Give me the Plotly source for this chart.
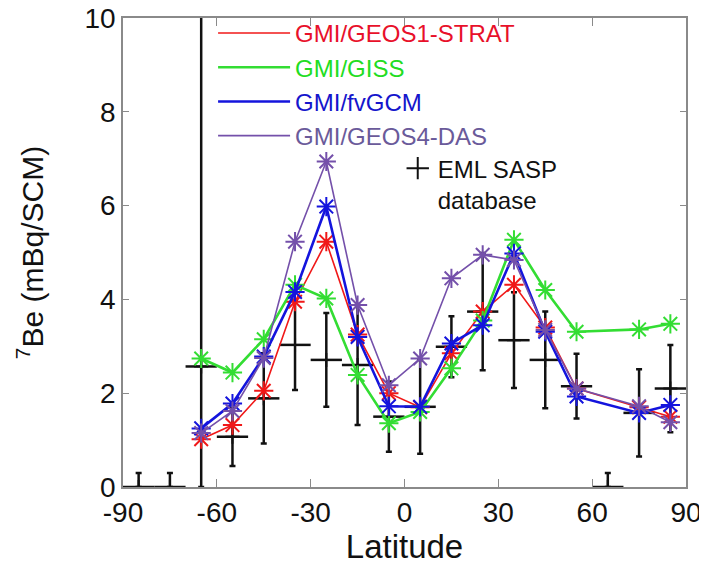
import plotly.graph_objects as go

# ---------------- data ----------------
lat_model = [-65, -55, -45, -35, -25, -15, -5, 5, 15, 25, 35, 45, 55, 75, 85]
geos1_strat = [1.02, 1.32, 2.05, 3.95, 5.23, 3.25, 2.00, 1.70, 2.85, 3.74, 4.31, 3.40, 2.10, 1.70, 1.50]
giss        = [2.74, 2.44, 3.15, 4.31, 4.02, 2.39, 1.36, 1.60, 2.53, 3.55, 5.27, 4.20, 3.31, 3.36, 3.48]
fvgcm       = [1.25, 1.78, 2.78, 4.16, 5.98, 3.20, 1.72, 1.71, 3.06, 3.45, 4.98, 3.31, 1.93, 1.58, 1.75]
geos4_das   = [1.15, 1.62, 2.75, 5.23, 6.94, 3.88, 2.17, 2.74, 4.45, 4.95, 4.84, 3.35, 2.10, 1.72, 1.38]

lat_obs = [-85, -75, -65, -55, -45, -35, -25, -15, -5, 5, 15, 25, 35, 45, 55, 65, 75, 85]
eml_val = [0.0, 0.0, 2.57, 1.07, 1.89, 3.03, 2.71, 2.60, 1.50, 1.71, 2.99, 3.74, 3.13, 2.71, 2.15, 0.0, 1.58, 2.10]
eml_err_plus = [0.30, 0.30, 8.0, 0.62, 0.96, 0.96, 1.00, 1.28, 0.75, 1.00, 0.65, 1.25, 1.02, 1.03, 0.69, 0.30, 0.93, 0.93]
eml_err_minus = [0.0, 0.0, 2.57, 0.62, 0.96, 0.96, 1.00, 1.28, 0.75, 1.00, 0.65, 1.25, 1.02, 1.03, 0.69, 0.0, 0.93, 0.93]
lat_halfwidth = [5] * len(lat_obs)

x_ticks = [-90, -60, -30, 0, 30, 60, 90]
x_tick_labels = ["-90", "-60", "-30", "0", "30", "60", "90"]
y_ticks = [0, 2, 4, 6, 8, 10]

models = [
    ("GMI/GEOS1-STRAT", geos1_strat, "#f01818", "#e8102a", 1.6),
    ("GMI/GISS", giss, "#33dd33", "#22dd22", 2.6),
    ("GMI/fvGCM", fvgcm, "#1414dd", "#1515cc", 2.6),
    ("GMI/GEOS4-DAS", geos4_das, "#7450aa", "#6a5a9a", 1.6),
]

FONT = "Liberation Sans, Arial, sans-serif"

fig = go.Figure()

# observations (cross = lat range bar + uncertainty bar)
fig.add_trace(go.Scatter(
    x=lat_obs, y=eml_val, mode="markers",
    marker=dict(symbol="cross-thin", size=10, color="#111111",
                line=dict(color="#111111", width=2)),
    error_x=dict(type="data", array=lat_halfwidth, symmetric=True,
                 color="#111111", thickness=2.5, width=0),
    error_y=dict(type="data", array=eml_err_plus, arrayminus=eml_err_minus,
                 symmetric=False, color="#111111", thickness=2.5, width=3),
    showlegend=False, hoverinfo="skip",
))

for name, vals, col, tcol, lw in models:
    fig.add_trace(go.Scatter(
        x=lat_model, y=vals, mode="lines+markers",
        line=dict(color=col, width=lw),
        marker=dict(symbol="asterisk-open", size=16,
                    line=dict(color=col, width=2)),
        showlegend=False,
    ))

# legend entries
for name, vals, col, tcol, lw in models:
    fig.add_trace(go.Scatter(
        x=[None], y=[None], mode="lines",
        line=dict(color=col, width=lw),
        name=f"<span style='color:{tcol}'>{name}</span>",
        legend="legend",
    ))
fig.add_trace(go.Scatter(
    x=[None], y=[None], mode="markers",
    marker=dict(symbol="cross-thin", size=20, color="#111111",
                line=dict(color="#111111", width=2)),
    name="EML SASP<br>database",
    legend="legend2",
))

axis_common = dict(
    showline=True, linecolor="#8a8a8a", linewidth=1.5, mirror="ticks",
    ticks="inside", tickcolor="#8a8a8a", tickwidth=1.2,
    showgrid=False, zeroline=False,
    tickfont=dict(family=FONT, size=28, color="#111111"),
)

fig.update_layout(
    width=707, height=575,
    margin=dict(l=115, r=29, t=3, b=96),
    paper_bgcolor="white", plot_bgcolor="white",
    font=dict(family=FONT, color="#111111"),
    xaxis=dict(range=[-90, 90], tickvals=x_ticks, ticktext=x_tick_labels, ticklen=8,
               automargin="bottom", ticklabeloverflow="allow",
               title=dict(text="Latitude", font=dict(family=FONT, size=33), standoff=0),
               **axis_common),
    yaxis=dict(range=[0, 10], tickvals=y_ticks, ticklen=6,
               automargin="left", ticklabeloverflow="allow",
               title=dict(text="<sup>7</sup>Be (mBq/SCM)", font=dict(family=FONT, size=30), standoff=32),
               **axis_common),
    legend=dict(x=0.16, y=1.015, xanchor="left", yanchor="top",
                bgcolor="rgba(0,0,0,0)", borderwidth=0,
                font=dict(family=FONT, size=24), tracegroupgap=0,
                itemwidth=72),
    legend2=dict(x=0.488, y=0.727, xanchor="left", yanchor="top",
                 bgcolor="rgba(0,0,0,0)", borderwidth=0, valign="top",
                 font=dict(family=FONT, size=24, color="#111111"),
                 itemwidth=30),
)

fig.write_html("out.html")
